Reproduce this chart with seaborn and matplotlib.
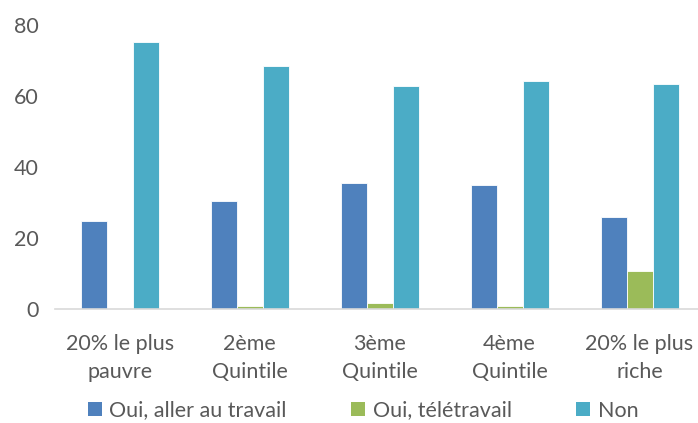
import matplotlib
matplotlib.use("Agg")
import matplotlib.pyplot as plt
import pandas as pd
import seaborn as sns
from matplotlib.patches import Patch

categories = ["20% le plus\npauvre", "2ème\nQuintile", "3ème\nQuintile",
              "4ème\nQuintile", "20% le plus\nriche"]
series = ["Oui, aller au travail", "Oui, télétravail", "Non"]
travail = [24.8, 30.4, 35.5, 34.9, 25.8]
teletravail = [0.0, 0.9, 1.6, 0.9, 10.7]
non = [75.2, 68.5, 62.8, 64.1, 63.3]
colors = ["#4F81BD", "#9BBB59", "#4BACC6"]

frame = pd.DataFrame({
    "categorie": categories * 3,
    "serie": [s for s in series for _ in categories],
    "valeur": travail + teletravail + non,
})

sns.set_style("white")
plt.rcParams["font.family"] = ["Lato", "DejaVu Sans"]
text_color = "#595959"

fig = plt.figure(figsize=(6.98, 4.23), dpi=100)
ax = fig.add_axes([55 / 698, 114 / 423, 643 / 698, 284 / 423])
sns.barplot(data=frame, x="categorie", y="valeur", hue="serie",
            hue_order=series, palette=colors, saturation=1, width=0.6, gap=0,
            edgecolor="white", linewidth=0.6, ax=ax, legend=False)

ax.set_ylim(0, 80)
ax.set_yticks([0, 20, 40, 60, 80])
ax.set_xlim(-0.5, 4.45)
ax.set_xlabel("")
ax.set_ylabel("")
for side in ["top", "right", "left"]:
    ax.spines[side].set_visible(False)
ax.spines["bottom"].set_color("#D9D9D9")
ax.spines["bottom"].set_linewidth(1.2)
ax.tick_params(axis="both", length=0, labelsize=15.5, colors=text_color)
ax.tick_params(axis="x", pad=18)
ax.tick_params(axis="y", pad=12)
for label in ax.get_xticklabels():
    label.set_linespacing(1.5)

handles = [Patch(facecolor=c, edgecolor="none") for c in colors]
fig.legend(handles, series, loc="lower center", bbox_to_anchor=(0.52, -0.04),
           ncol=3, frameon=False, fontsize=15.5, handlelength=0.65,
           handleheight=0.65, handletextpad=0.35, columnspacing=3.0,
           labelcolor=text_color)

fig.savefig("out.png", dpi=100)
